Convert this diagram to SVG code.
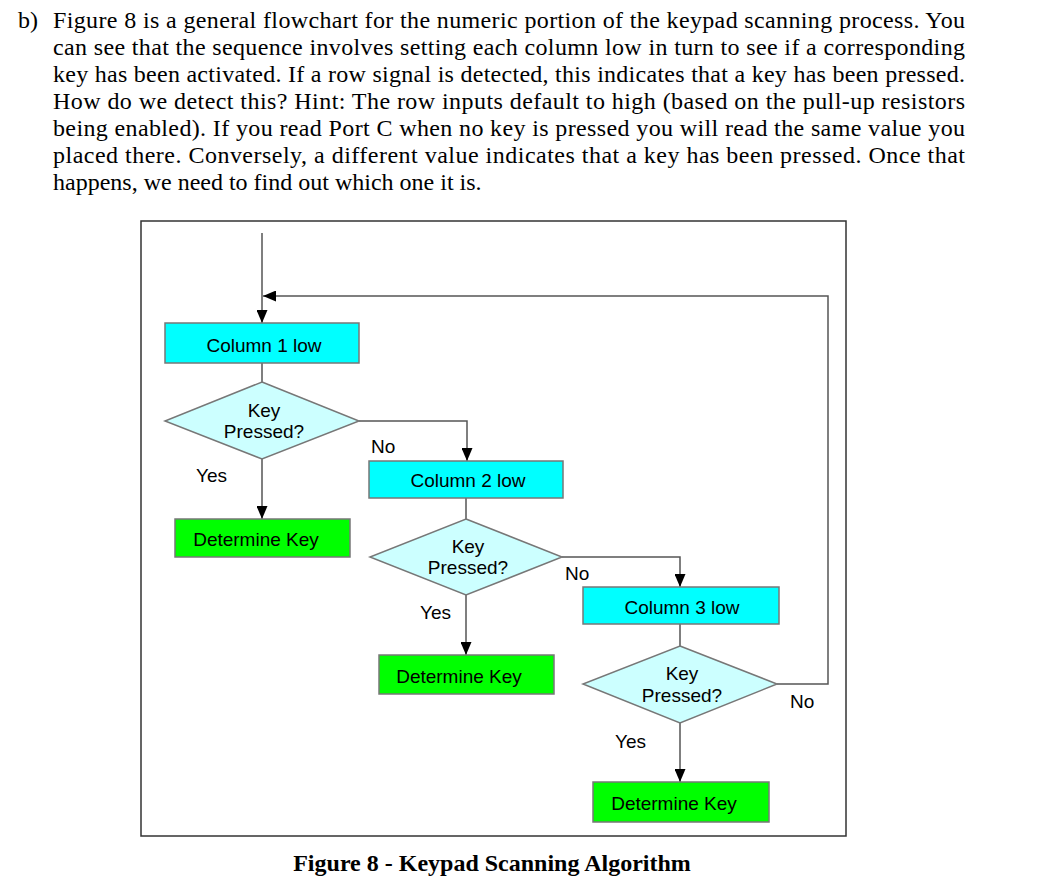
<svg xmlns="http://www.w3.org/2000/svg" width="1053" height="889" viewBox="0 0 1053 889">
<style>
.para{font-family:"Liberation Serif","Times New Roman",serif;font-size:24px;fill:#000}
.cap{font-family:"Liberation Serif","Times New Roman",serif;font-size:24px;font-weight:bold;fill:#000}
.t{font-family:"Liberation Sans",Arial,sans-serif;font-size:19px;fill:#000;text-anchor:middle}
.lbl{font-family:"Liberation Sans",Arial,sans-serif;font-size:19px;fill:#000}
.col{fill:#00FFFF;stroke:#777;stroke-width:1.5}
.dia{fill:#CCFFFF;stroke:#777;stroke-width:1.5}
.det{fill:#00FF00;stroke:#777;stroke-width:1.5}
.c{fill:none;stroke:#555;stroke-width:1.5}
</style>
<defs>
<marker id="ah" viewBox="0 0 13 11" markerWidth="13" markerHeight="11" refX="13" refY="5.5" orient="auto" markerUnits="userSpaceOnUse">
<path d="M0,0 L13,5.5 L0,11 Z" fill="#000"/>
</marker>
</defs>
<rect width="1053" height="889" fill="#fff"/>
<g id="paragraph">
<text class="para" x="18" y="28">b)</text>
<text class="para" x="53" y="28" textLength="912" lengthAdjust="spacing">Figure 8 is a general flowchart for the numeric portion of the keypad scanning process. You</text>
<text class="para" x="53" y="55" textLength="912" lengthAdjust="spacing">can see that the sequence involves setting each column low in turn to see if a corresponding</text>
<text class="para" x="53" y="82" textLength="912" lengthAdjust="spacing">key has been activated. If a row signal is detected, this indicates that a key has been pressed.</text>
<text class="para" x="53" y="109" textLength="912" lengthAdjust="spacing">How do we detect this? Hint: The row inputs default to high (based on the pull-up resistors</text>
<text class="para" x="53" y="136" textLength="912" lengthAdjust="spacing">being enabled). If you read Port C when no key is pressed you will read the same value you</text>
<text class="para" x="53" y="163" textLength="912" lengthAdjust="spacing">placed there. Conversely, a different value indicates that a key has been pressed. Once that</text>
<text class="para" x="53" y="190">happens, we need to find out which one it is.</text>
</g>
<rect id="frame" x="141" y="221" width="705" height="615" fill="none" stroke="#333" stroke-width="1.5"/>
<g id="connectors">
<path class="c" d="M262,233 V323" marker-end="url(#ah)"/>
<path class="c" d="M777,684 H828 V296 H263" marker-end="url(#ah)"/>
<path class="c" d="M262,363 V382"/>
<path class="c" d="M359,421 H467 V461" marker-end="url(#ah)"/>
<path class="c" d="M262,459 V519" marker-end="url(#ah)"/>
<path class="c" d="M466,498 V519"/>
<path class="c" d="M562,557 H680 V587" marker-end="url(#ah)"/>
<path class="c" d="M466,595 V655" marker-end="url(#ah)"/>
<path class="c" d="M680,624 V646"/>
<path class="c" d="M680,723 V782" marker-end="url(#ah)"/>
</g>
<g id="labels">
<text class="lbl" x="196" y="482">Yes</text>
<text class="lbl" x="371" y="453">No</text>
<text class="lbl" x="420" y="619">Yes</text>
<text class="lbl" x="565" y="580">No</text>
<text class="lbl" x="615" y="748">Yes</text>
<text class="lbl" x="790" y="708">No</text>
</g>
<g id="col1">
<rect class="col" x="165" y="323" width="194" height="40"/>
<text class="t" x="264" y="352">Column 1 low</text>
</g>
<g id="dec1">
<polygon class="dia" points="262,382 359,421 262,459 165,421"/>
<text class="t" x="264" y="417">Key</text>
<text class="t" x="264" y="438">Pressed?</text>
</g>
<g id="det1">
<rect class="det" x="175" y="519" width="175" height="38"/>
<text class="t" x="256" y="546">Determine Key</text>
</g>
<g id="col2">
<rect class="col" x="369" y="461" width="194" height="37"/>
<text class="t" x="468" y="487">Column 2 low</text>
</g>
<g id="dec2">
<polygon class="dia" points="466,519 562,557 466,595 370,557"/>
<text class="t" x="468" y="553">Key</text>
<text class="t" x="468" y="574">Pressed?</text>
</g>
<g id="det2">
<rect class="det" x="379" y="655" width="175" height="39"/>
<text class="t" x="459" y="683">Determine Key</text>
</g>
<g id="col3">
<rect class="col" x="583" y="587" width="196" height="37"/>
<text class="t" x="682" y="614">Column 3 low</text>
</g>
<g id="dec3">
<polygon class="dia" points="680,646 777,684 680,723 583,684"/>
<text class="t" x="682" y="680">Key</text>
<text class="t" x="682" y="702">Pressed?</text>
</g>
<g id="det3">
<rect class="det" x="593" y="782" width="176" height="40"/>
<text class="t" x="674" y="810">Determine Key</text>
</g>
<text class="cap" x="492" y="871" text-anchor="middle">Figure 8 - Keypad Scanning Algorithm</text>
</svg>
